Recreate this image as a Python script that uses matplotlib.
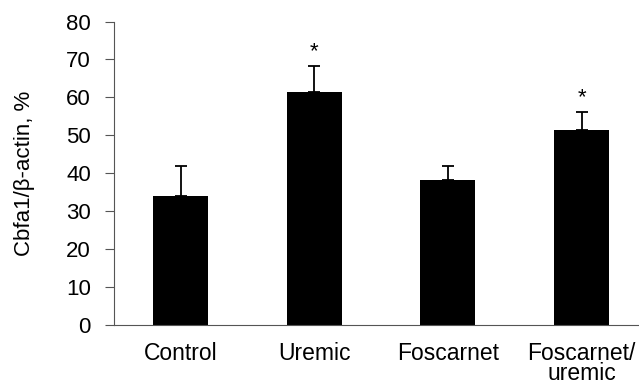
import matplotlib.pyplot as plt

plt.rcParams["font.family"] = ["Liberation Sans", "DejaVu Sans"]

groups = ["Control", "Uremic", "Foscarnet", "Foscarnet/\nuremic"]
means = [34.1, 61.3, 38.3, 51.4]
errors = [7.9, 6.9, 3.7, 4.7]
significant = [False, True, False, True]

fig = plt.figure(figsize=(6.39, 3.84), dpi=100)
ax = fig.add_axes([0.178, 0.154, 0.822, 0.79])

x = range(len(groups))
ax.bar(x, means, width=0.41, color="black", zorder=2)
ax.errorbar(x, means, yerr=[[0] * len(errors), errors], fmt="none",
            ecolor="black", elinewidth=1.3, capsize=4.5, capthick=1.3, zorder=1)

for xi, m, e, sig in zip(x, means, errors, significant):
    if sig:
        ax.annotate("*", (xi, m + e), xytext=(0, 3), textcoords="offset points",
                    ha="center", va="bottom", fontsize=16)

ax.set_xlim(-0.5, 3.43)
ax.set_ylim(0, 80)
ax.set_yticks(range(0, 81, 10))
ax.set_xticks(list(x))
ax.set_xticklabels(groups, fontsize=16.5, linespacing=0.85)
ax.tick_params(axis="y", labelsize=16, length=6.5, width=0.8, color="#555555", pad=10)
ax.tick_params(axis="x", length=0, pad=12)
ax.set_ylabel("Cbfa1/β-actin, %", fontsize=16, labelpad=22)

ax.spines[["top", "right"]].set_visible(False)
for side in ["left", "bottom"]:
    ax.spines[side].set_color("#555555")
    ax.spines[side].set_linewidth(0.8)

fig.savefig("out.png", dpi=100)
